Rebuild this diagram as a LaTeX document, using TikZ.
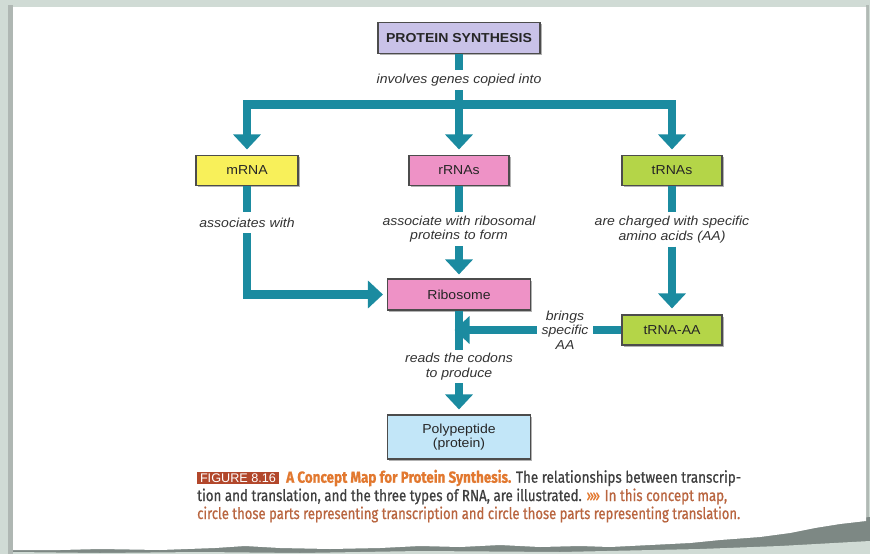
\documentclass[tikz,border=0pt]{standalone}
\usepackage{fontspec}
\usepackage{graphicx}
\setmainfont{Liberation Sans}[FakeStretch=1.08]
\newfontfamily\capfont{Fira Sans}[FakeBold=0.8]
\newfontfamily\figfont{Liberation Sans}
\usetikzlibrary{arrows.meta,shadows,calc}
\definecolor{teal1}{HTML}{1B8BA0}
\definecolor{lav}{HTML}{C9C2E8}
\definecolor{ylw}{HTML}{F8F05A}
\definecolor{pnk}{HTML}{EE92C6}
\definecolor{lime}{HTML}{B4D548}
\definecolor{lblue}{HTML}{C2E6F8}
\definecolor{bggreen}{HTML}{D0DBD5}
\definecolor{capor}{HTML}{E2782F}
\definecolor{capgray}{HTML}{3F3F3F}
\definecolor{capbrown}{HTML}{B9653F}
\definecolor{figred}{HTML}{B2472B}
\definecolor{torn}{HTML}{7D8884}
\tikzset{
  cbox/.style={draw=black!70, line width=1.1pt, fill=#1, minimum width=100pt,
    minimum height=30pt, inner sep=0pt, align=center,
    font=\fontsize{13}{14.5}\selectfont, text=black!85,
    drop shadow={shadow xshift=1.6pt, shadow yshift=-1.6pt, opacity=0.3, fill=black}},
  lab/.style={font=\fontsize{13}{14.5}\selectfont\itshape, text=black!80,
    align=center, inner sep=0pt},
  conn/.style={draw=teal1, line width=8.5pt, line join=miter},
  tip/.style={-{Triangle[width=27pt,length=15pt]}},
}
\begin{document}
\begin{tikzpicture}[x=1pt,y=-1pt]
\useasboundingbox (0,0) rectangle (870,554);
% background and page
\fill[bggreen] (0,0) rectangle (870,554);
\fill[bggreen!80!black!90] (8,5) rectangle (13,554);
\fill[bggreen!85!black] (866,5) rectangle (869,530);
\fill[torn] (13,547) -- (60,546) -- (120,548) -- (200,545) -- (240,541) -- (270,544)
  -- (330,546) -- (400,544) -- (470,542) -- (520,541) -- (560,544) -- (620,543)
  -- (680,540) -- (720,537) -- (770,532) -- (810,525) -- (840,520) -- (870,517)
  -- (870,554) -- (13,554) -- cycle;
\fill[bggreen] (13,554) -- (13,552) -- (100,553) -- (200,552) -- (300,553) -- (420,551)
  -- (560,552) -- (700,549) -- (780,546) -- (870,541) -- (870,554) -- cycle;
\fill[white] (13,7) -- (866,7) -- (866,521) -- (840,524) -- (815,528) -- (790,533)
  -- (760,537) -- (720,540) -- (690,543) -- (650,545) -- (610,547) -- (580,546)
  -- (540,547) -- (500,545) -- (460,547) -- (420,546) -- (380,548) -- (330,549)
  -- (280,548) -- (245,546) -- (215,548) -- (160,550) -- (100,549) -- (60,550)
  -- (13,550) -- cycle;

% nodes
\node[cbox=lav, minimum width=162pt, minimum height=31pt, font=\fontsize{13}{14.5}\selectfont\bfseries] (ps) at (459,38) {PROTEIN SYNTHESIS};
\node[lab, minimum height=20pt] (l1) at (459,80) {involves genes copied into};
\coordinate (bm) at (459,104.5);

\node[cbox=ylw, minimum width=102pt] (mr) at (247,170.5) {mRNA};
\node[cbox=pnk] (rr) at (459,170.5) {rRNAs};
\node[cbox=lime] (tr) at (672,170.5) {tRNAs};

\node[lab, minimum height=21pt] (l2) at (247,222.5) {associates with};
\node[lab, minimum height=34pt] (l3) at (459,229) {associate with ribosomal\\proteins to form};
\node[lab, minimum height=34pt] (l4) at (672,229.5) {are charged with specific\\amino acids (AA)};

\node[cbox=pnk, minimum width=143pt, minimum height=31pt] (rib) at (459,294.5) {Ribosome};
\node[cbox=lime] (ta) at (672,330) {tRNA-AA};
\node[lab, minimum width=56pt] (l5) at (565,330) {brings\\specific\\AA};
\coordinate (st) at (459,330);
\node[lab, minimum height=33pt] (l6) at (459,366.5) {reads the codons\\to produce};
\node[cbox=lblue, minimum width=143pt, minimum height=44pt] (pp) at (459,437) {Polypeptide\\(protein)};

% connectors
\draw[conn] (ps.south) -- (l1.north);
\draw[conn,tip,shorten >=5.5pt] (l1.south) -- (rr.north);
\draw[conn,tip,shorten >=5.5pt] (bm) -| (mr.north);
\draw[conn,tip,shorten >=5.5pt] (bm) -| (tr.north);
\draw[conn] (mr.south) -- (l2.north);
\draw[conn] (rr.south) -- (l3.north);
\draw[conn] (tr.south) -- (l4.north);
\draw[conn,tip,shorten >=4pt] (l2.south) |- (rib.west);
\draw[conn,tip,shorten >=4pt] (l3.south) -- (rib.north);
\draw[conn,tip,shorten >=6pt] (l4.south) -- (ta.north);
\draw[conn] (rib.south) -- (l6.north);
\draw[conn] (ta.west) -- (l5.east);
\draw[conn,tip,shorten >=-4.5pt] (l5.west) -- (st);
\draw[conn,tip,shorten >=5pt] (l6.south) -- (pp.north);

% caption
\node[fill=figred, minimum width=82pt, minimum height=12pt, inner sep=0pt, text=white] (fig) at (238,477.75)
  {\resizebox{76pt}{\height}{\figfont\fontsize{12.5}{12}\selectfont FIGURE 8.16}};
\node[anchor=west, inner sep=0pt] (c1) at (286,478)
  {\resizebox{455pt}{\height}{\capfont\fontsize{16}{18}\selectfont{\bfseries\color{capor}A Concept Map for Protein Synthesis.} \color{capgray}The relationships between transcrip-}};
\node[anchor=west, inner sep=0pt] (c2) at (197,496.5)
  {\resizebox{530pt}{\height}{\capfont\fontsize{16}{18}\selectfont{\color{capgray}tion and translation, and the three types of RNA, are illustrated.} {\color{capor}»»} {\color{capbrown}In this concept map,}}};
\node[anchor=west, inner sep=0pt] (c3) at (197,514.5)
  {\resizebox{543pt}{\height}{\capfont\fontsize{16}{18}\selectfont\color{capbrown}circle those parts representing transcription and circle those parts representing translation.}};
\end{tikzpicture}
\end{document}
